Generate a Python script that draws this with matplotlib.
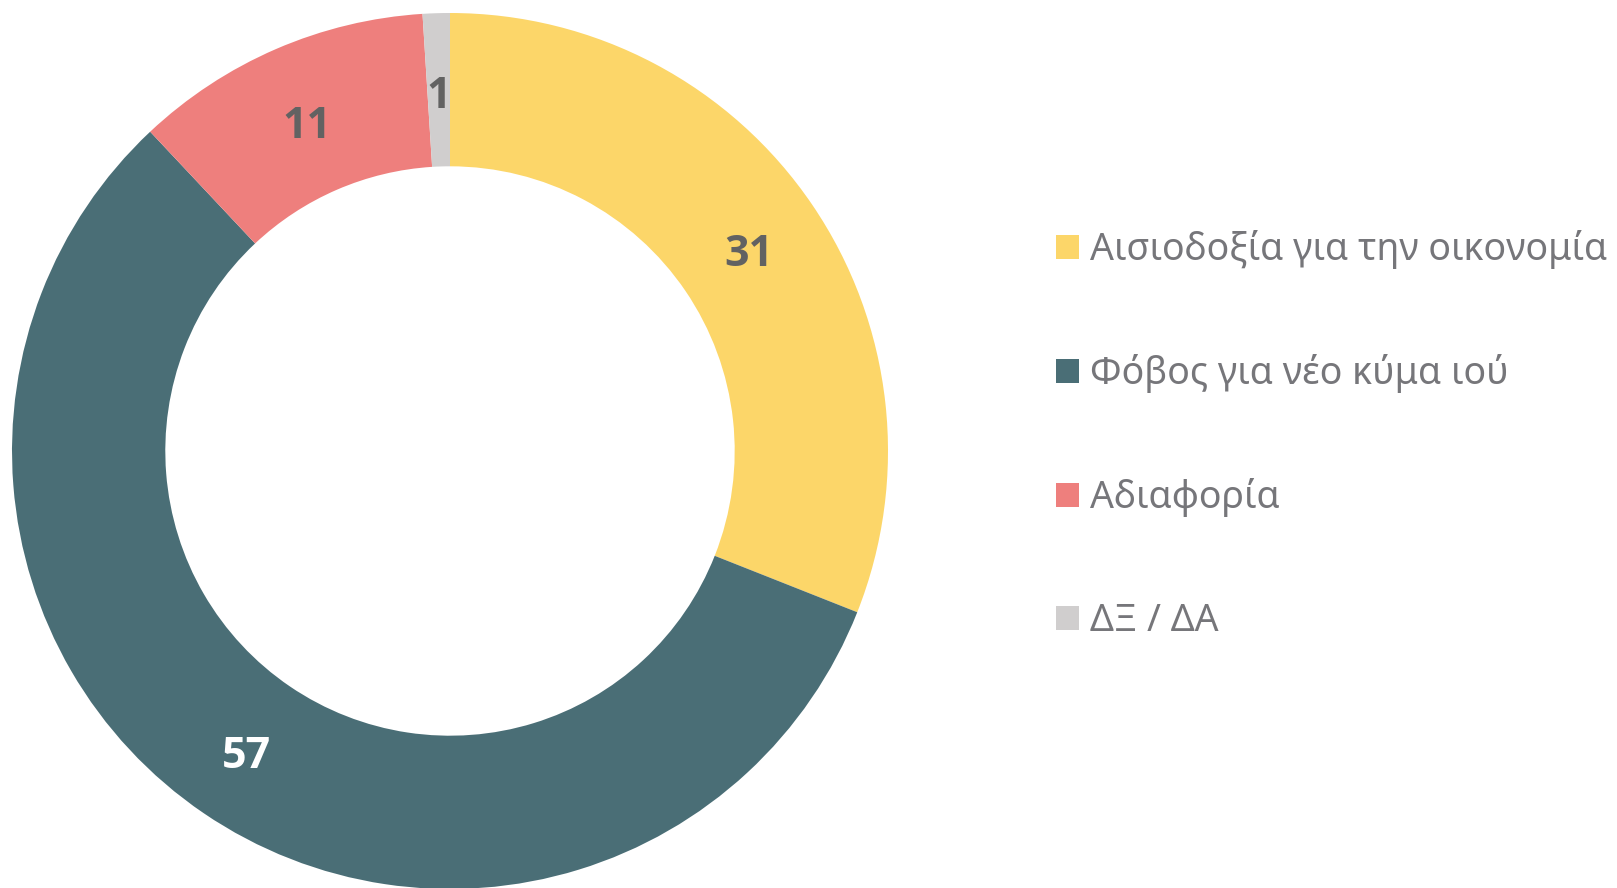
import matplotlib.pyplot as plt
import matplotlib.transforms as mtransforms
import numpy as np

labels = ['Αισιοδοξία για την οικονομία', 'Φόβος για νέο κύμα ιού', 'Αδιαφορία', 'ΔΞ / ΔΑ']
values = [31, 57, 11, 1]
colors = ['#FCD669', '#4A6E76', '#EE7F7D', '#D0CECE']
label_colors = ['#626262', '#FFFFFF', '#626262', '#626262']

plt.rcParams['font.family'] = ['Noto Sans', 'DejaVu Sans']

fig = plt.figure(figsize=(16.17, 8.88), dpi=100)
# square axes holding the donut, centre at about (450, 451) px
ax = fig.add_axes([10 / 1617, -3 / 888, 880 / 1617, 880 / 888])
width = 0.35
wedges, _ = ax.pie(values, colors=colors, startangle=90, counterclock=False,
                   radius=1, wedgeprops=dict(width=width, linewidth=0))
ax.set_xlim(-440 / 438, 440 / 438)
ax.set_ylim(-440 / 438, 440 / 438)
ax.set_aspect('equal')

# value labels in the middle of the ring (nudged down a little)
shift = mtransforms.ScaledTranslation(0, -7 / 100, fig.dpi_scale_trans)
r_mid = 1 - width / 2
for w, v, c in zip(wedges, values, label_colors):
    ang = np.deg2rad((w.theta1 + w.theta2) / 2)
    ax.text(r_mid * np.cos(ang), r_mid * np.sin(ang), str(v), ha='center', va='center',
            fontsize=31, fontweight='bold', color=c, family=['Open Sans', 'DejaVu Sans'],
            transform=ax.transData + shift)

leg = fig.legend(wedges, labels, loc='upper left', bbox_to_anchor=(1056 / 1617, 1 - 230 / 888),
                 frameon=False, fontsize=27, labelcolor='#76767A',
                 handlelength=0.6, handleheight=0.6, handletextpad=0.3,
                 labelspacing=2.27, borderaxespad=0, borderpad=0)

fig.savefig('out.png', dpi=100)
